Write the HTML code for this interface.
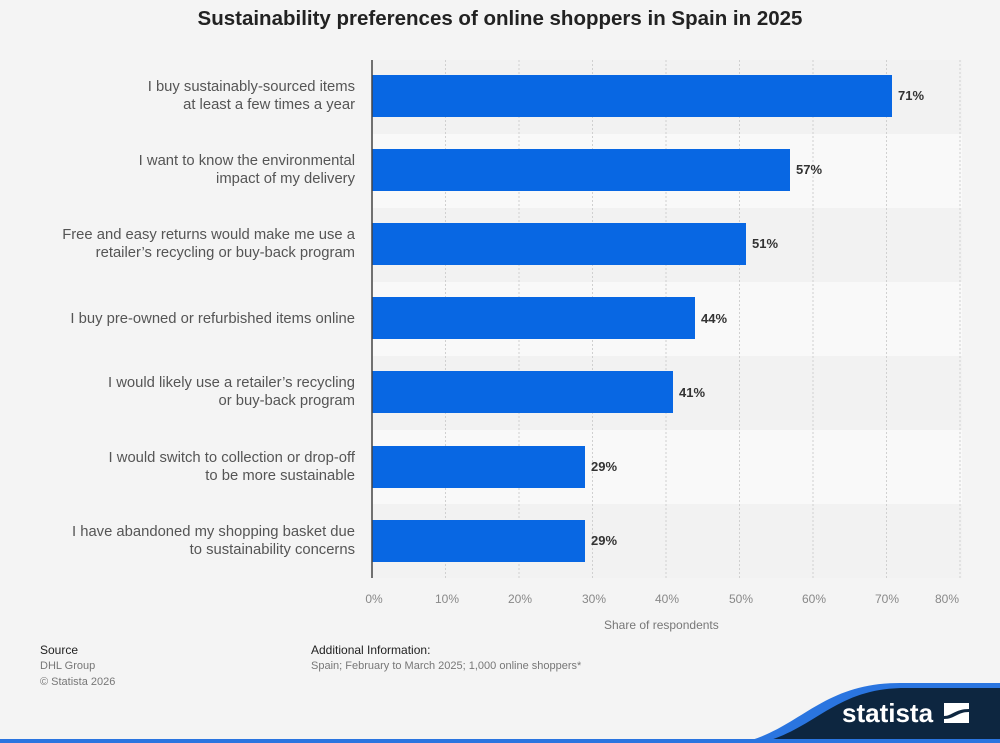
<!DOCTYPE html>
<html><head><meta charset="utf-8"><style>
body{margin:0;width:1000px;height:743px;background:#f4f4f4;font-family:"Liberation Sans",sans-serif;position:relative;overflow:hidden}
.t{position:absolute;white-space:nowrap}
.lab{position:absolute;right:645px;text-align:right;color:#555;font-size:14.8px;line-height:18px}
.val{position:absolute;font-size:13px;font-weight:bold;color:#333}
.tick{position:absolute;top:592px;font-size:12px;color:#888;width:40px;margin-left:-20px;text-align:center}
</style></head><body>
<div class="t" style="left:0;width:1000px;text-align:center;top:7px;font-size:20.5px;font-weight:bold;color:#222">Sustainability preferences of online shoppers in Spain in 2025</div>
<svg width="1000" height="743" style="position:absolute;left:0;top:0">
<rect x="372" y="60" width="590" height="74" fill="#f2f2f2"/>
<rect x="372" y="134" width="590" height="74" fill="#f9f9f9"/>
<rect x="372" y="208" width="590" height="74" fill="#f2f2f2"/>
<rect x="372" y="282" width="590" height="74" fill="#f9f9f9"/>
<rect x="372" y="356" width="590" height="74" fill="#f2f2f2"/>
<rect x="372" y="430" width="590" height="74" fill="#f9f9f9"/>
<rect x="372" y="504" width="590" height="74" fill="#f2f2f2"/>
<g stroke="#d0d0d0" stroke-dasharray="2,2">
<line x1="445.5" y1="60" x2="445.5" y2="578"/><line x1="519" y1="60" x2="519" y2="578"/><line x1="592.5" y1="60" x2="592.5" y2="578"/><line x1="666" y1="60" x2="666" y2="578"/><line x1="739.5" y1="60" x2="739.5" y2="578"/><line x1="813" y1="60" x2="813" y2="578"/><line x1="886.5" y1="60" x2="886.5" y2="578"/><line x1="960" y1="60" x2="960" y2="578"/>
</g>
<g fill="#0867e3">
<rect x="372" y="75" width="520" height="42"/>
<rect x="372" y="149" width="418" height="42"/>
<rect x="372" y="223" width="374" height="42"/>
<rect x="372" y="297" width="323" height="42"/>
<rect x="372" y="371" width="301" height="42"/>
<rect x="372" y="446" width="213" height="42"/>
<rect x="372" y="520" width="213" height="42"/>
</g>
<line x1="372" y1="60" x2="372" y2="578" stroke="#444" stroke-width="1.5"/>
<path d="M740 743 C800 730 820 683 900 683 L1000 683 L1000 743 Z" fill="#2a75e0"/>
<path d="M760 743 C815 730 835 688 905 688 L1000 688 L1000 743 Z" fill="#0d2640"/>
<rect x="0" y="739" width="1000" height="4" fill="#2a75e0"/>
<rect x="944" y="703" width="25" height="20" fill="#fff"/>
<path d="M944 716 C952 716 955 709 969 709 L969 712 C957 712 955 719 944 719 Z" fill="#0d2640"/>
</svg>
<div class="t" style="left:842px;top:698px;font-size:26px;font-weight:bold;color:#fff">statista</div>
<div class="lab" style="top:78px">I buy sustainably-sourced items<br>at least a few times a year</div>
<div class="lab" style="top:152px">I want to know the environmental<br>impact of my delivery</div>
<div class="lab" style="top:226px">Free and easy returns would make me use a<br>retailer’s recycling or buy-back program</div>
<div class="lab" style="top:310px">I buy pre-owned or refurbished items online</div>
<div class="lab" style="top:374px">I would likely use a retailer’s recycling<br>or buy-back program</div>
<div class="lab" style="top:449px">I would switch to collection or drop-off<br>to be more sustainable</div>
<div class="lab" style="top:523px">I have abandoned my shopping basket due<br>to sustainability concerns</div>
<div class="val" style="left:898px;top:88px">71%</div>
<div class="val" style="left:796px;top:162px">57%</div>
<div class="val" style="left:752px;top:236px">51%</div>
<div class="val" style="left:701px;top:311px">44%</div>
<div class="val" style="left:679px;top:385px">41%</div>
<div class="val" style="left:591px;top:459px">29%</div>
<div class="val" style="left:591px;top:533px">29%</div>
<div class="tick" style="left:374px">0%</div><div class="tick" style="left:447px">10%</div><div class="tick" style="left:520px">20%</div><div class="tick" style="left:594px">30%</div><div class="tick" style="left:667px">40%</div><div class="tick" style="left:741px">50%</div><div class="tick" style="left:814px">60%</div><div class="tick" style="left:887px">70%</div><div class="tick" style="left:947px">80%</div>
<div class="t" style="left:604px;top:618px;font-size:12px;color:#777">Share of respondents</div>
<div class="t" style="left:40px;top:643px;font-size:12px;color:#222">Source</div>
<div class="t" style="left:40px;top:660px;font-size:11px;color:#777">DHL Group</div>
<div class="t" style="left:40px;top:676px;font-size:11px;color:#777">© Statista 2026</div>
<div class="t" style="left:311px;top:643px;font-size:12px;color:#222">Additional Information:</div>
<div class="t" style="left:311px;top:660px;font-size:11px;color:#777">Spain; February to March 2025; 1,000 online shoppers*</div>
</body></html>
